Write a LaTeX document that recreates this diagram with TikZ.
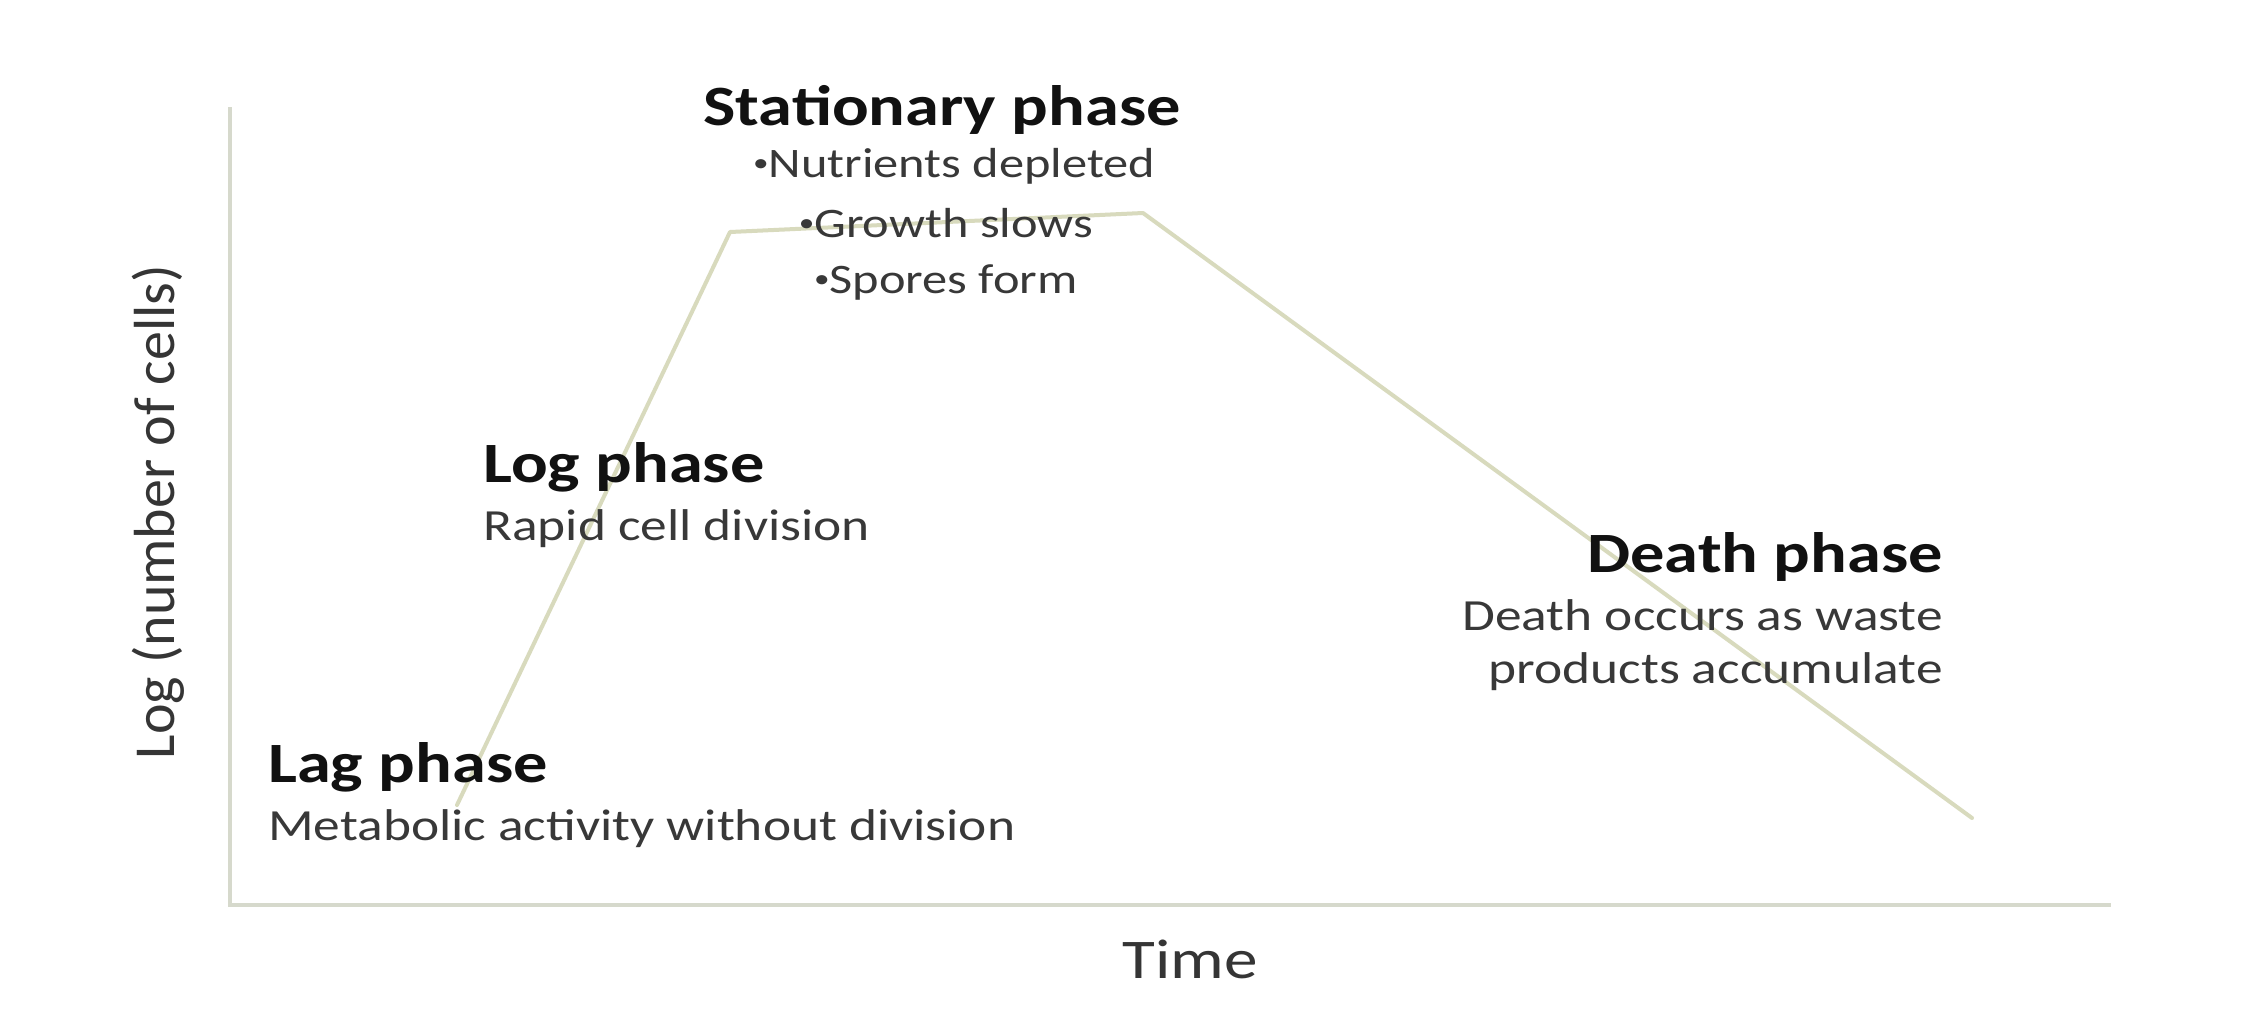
\documentclass[tikz,border=0pt]{standalone}
\usepackage{fontspec}
\setmainfont{Carlito}[FakeStretch=1.2]
\newfontfamily\ylabelfont{Carlito}
\newcommand\smbullet{{\fontsize{26}{26}\selectfont\raisebox{6pt}{•}}}
\definecolor{axiscol}{HTML}{D6D9CC}
\definecolor{curvecol}{HTML}{D8DABD}
\definecolor{headcol}{HTML}{111111}
\definecolor{bodycol}{HTML}{383838}
\begin{document}
\begin{tikzpicture}[x=1pt,y=-1pt,
  head/.style={inner sep=0pt, text=headcol, font=\fontsize{57}{68}\selectfont\bfseries},
  body/.style={inner sep=0pt, text=bodycol, font=\fontsize{44.5}{53}\selectfont},
  bullet/.style={inner sep=0pt, text=bodycol, font=\fontsize{42}{50}\selectfont},
  axislabel/.style={inner sep=0pt, text=headcol!85!white},
  axisline/.style={draw=axiscol, line width=4.5pt},
  growth/.style={draw=curvecol, line width=4pt, line join=round, line cap=round}]
\useasboundingbox[fill=white] (0,0) rectangle (2246,1023);
% axes
\coordinate (ytop) at (230,107);
\coordinate (origin) at (230,905);
\coordinate (xend) at (2111,905);
\draw[axisline] (ytop) -- (origin) -- (xend);
% growth curve
\coordinate (lagstart) at (457,805);
\coordinate (logtop) at (730,232);
\coordinate (statend) at (1143,213);
\coordinate (deathend) at (1972,818);
\draw[growth] (lagstart) -- (logtop) -- (statend) -- (deathend);
% stationary phase
\node[head, anchor=base] (stat) at (942,125) {Stationary phase};
\node[bullet, anchor=base] (nutr) at (954,177) {\smbullet Nutrients depleted};
\node[bullet, anchor=base] (grow) at (946,237) {\smbullet Growth slows};
\node[bullet, anchor=base] (spor) at (946,293) {\smbullet Spores form};
% log phase
\node[head, anchor=base west] (logp) at (483,482) {Log phase};
\node[body, anchor=base west] (rapid) at (483,540) {Rapid cell division};
% lag phase
\node[head, anchor=base west] (lagp) at (268,782) {Lag phase};
\node[body, anchor=base west] (meta) at (268,840) {Metabolic activity without division};
% death phase
\node[head, anchor=base east] (deathp) at (1943,572) {Death phase};
\node[body, anchor=base east] (death1) at (1943,630) {Death occurs as waste};
\node[body, anchor=base east] (death2) at (1943,683) {products accumulate};
% axis labels
\node[axislabel, font=\fontsize{56}{67}\selectfont, anchor=base] (time) at (1190,978) {Time};
\node[axislabel, font=\ylabelfont\fontsize{58}{70}\selectfont, rotate=90] (ylab) at (158,512) {Log (number of cells)};
\end{tikzpicture}
\end{document}
